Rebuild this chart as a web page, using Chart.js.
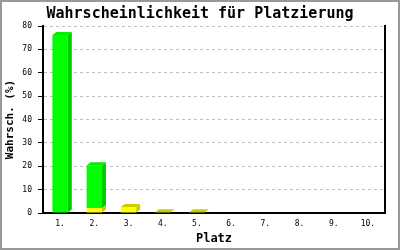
<!DOCTYPE html>
<html>
<head>
<meta charset="utf-8">
<script src="https://cdn.jsdelivr.net/npm/chart.js@4/dist/chart.umd.min.js"></script>
<style>
  body { margin: 0; background: #fff; }
  #wrap { width: 400px; height: 250px; position: relative; }
</style>
</head>
<body>
<div id="wrap"><canvas id="myChart" width="400" height="250"></canvas></div>
<script>
// data
const places = ['1.', '2.', '3.', '4.', '5.', '6.', '7.', '8.', '9.', '10.'];
const yellow_values = [0, 2.1, 2.6, 0.3, 0.3, 0, 0, 0, 0, 0];
const green_values = [76.2, 18.3, 0, 0, 0, 0, 0, 0, 0, 0];
const y_ticks = [0, 10, 20, 30, 40, 50, 60, 70, 80];

const mono = "'DejaVu Sans Mono', 'Liberation Mono', monospace";
const side_colors = ['#cccc00', '#00cc00'];
const top_colors = ['#cccc00', '#00ee00'];

// fake 3d side and top faces, drawn from the bar elements
const bars3d = {
  id: 'bars3d',
  afterDatasetsDraw(chart) {
    const ctx = chart.ctx;
    const dx = 4, dy = 3;
    const n = chart.data.datasets.length;
    ctx.save();
    for (let d = 0; d < n; d++) {
      const meta = chart.getDatasetMeta(d);
      meta.data.forEach(function(bar, i) {
        const val = chart.data.datasets[d].data[i];
        if (!val) return;
        const p = bar.getProps(['x', 'y', 'base', 'width'], true);
        const left = p.x - p.width / 2;
        const right = p.x + p.width / 2;
        // side
        ctx.fillStyle = side_colors[d];
        ctx.beginPath();
        ctx.moveTo(right, p.base);
        ctx.lineTo(right + dx, p.base - dy);
        ctx.lineTo(right + dx, p.y - dy);
        ctx.lineTo(right, p.y);
        ctx.closePath();
        ctx.fill();
        // top, only on the highest segment
        let isTop = true;
        for (let k = d + 1; k < n; k++) {
          if (chart.data.datasets[k].data[i]) isTop = false;
        }
        if (isTop) {
          ctx.fillStyle = top_colors[d];
          ctx.beginPath();
          ctx.moveTo(left, p.y);
          ctx.lineTo(left + dx, p.y - dy);
          ctx.lineTo(right + dx, p.y - dy);
          ctx.lineTo(right, p.y);
          ctx.closePath();
          ctx.fill();
        }
      });
    }
    ctx.restore();
  },
  afterDraw(chart) {
    // grey border round the picture
    const ctx = chart.ctx;
    ctx.save();
    ctx.strokeStyle = '#999';
    ctx.lineWidth = 2;
    ctx.strokeRect(1, 1, chart.width - 2, chart.height - 2);
    ctx.restore();
  }
};

new Chart(document.getElementById('myChart'), {
  type: 'bar',
  data: {
    labels: places,
    datasets: [
      { data: yellow_values, backgroundColor: '#ffff00', barPercentage: 0.45, categoryPercentage: 1 },
      { data: green_values, backgroundColor: '#00ff00', barPercentage: 0.45, categoryPercentage: 1 }
    ]
  },
  options: {
    responsive: false,
    animation: false,
    layout: { padding: 0 },
    plugins: {
      legend: { display: false },
      tooltip: { enabled: false },
      title: {
        display: true,
        text: 'Wahrscheinlichkeit für Platzierung',
        color: '#000',
        font: { family: mono, size: 15, weight: 'bold' },
        padding: { top: 5, bottom: 3 }
      }
    },
    scales: {
      x: {
        stacked: true,
        afterFit: function(scale) { scale.height = 37; },
        grid: { display: false, drawTicks: false },
        border: { display: true, color: '#000', width: 2 },
        ticks: { color: '#000', font: { family: mono, size: 8 }, padding: 6, maxRotation: 0 },
        title: {
          display: true,
          text: 'Platz',
          color: '#000',
          font: { family: mono, size: 12, weight: 'bold' },
          padding: { top: 0, bottom: 4 }
        }
      },
      y: {
        stacked: true,
        min: 0,
        max: 80,
        afterFit: function(scale) { scale.width = 43; },
        afterBuildTicks: function(scale) {
          scale.ticks = y_ticks.map(function(v) { return { value: v }; });
        },
        grid: {
          color: '#c0c0c0',
          tickColor: '#000',
          tickLength: 5,
          tickWidth: 1,
          tickBorderDash: []
        },
        border: { display: true, color: '#000', width: 2, dash: [3, 3] },
        ticks: { color: '#000', font: { family: mono, size: 8 }, padding: 6 },
        title: {
          display: true,
          text: 'Wahrsch. (%)',
          color: '#000',
          font: { family: mono, size: 11, weight: 'bold' },
          padding: { top: 4, bottom: 0 }
        }
      },
      // empty right axis: gives the right frame line and its margin
      yRight: {
        position: 'right',
        display: true,
        afterFit: function(scale) { scale.width = 15; },
        grid: { display: false, drawTicks: false },
        ticks: { display: false },
        border: { display: true, color: '#000', width: 2 }
      }
    }
  },
  plugins: [bars3d]
});
</script>
</body>
</html>
